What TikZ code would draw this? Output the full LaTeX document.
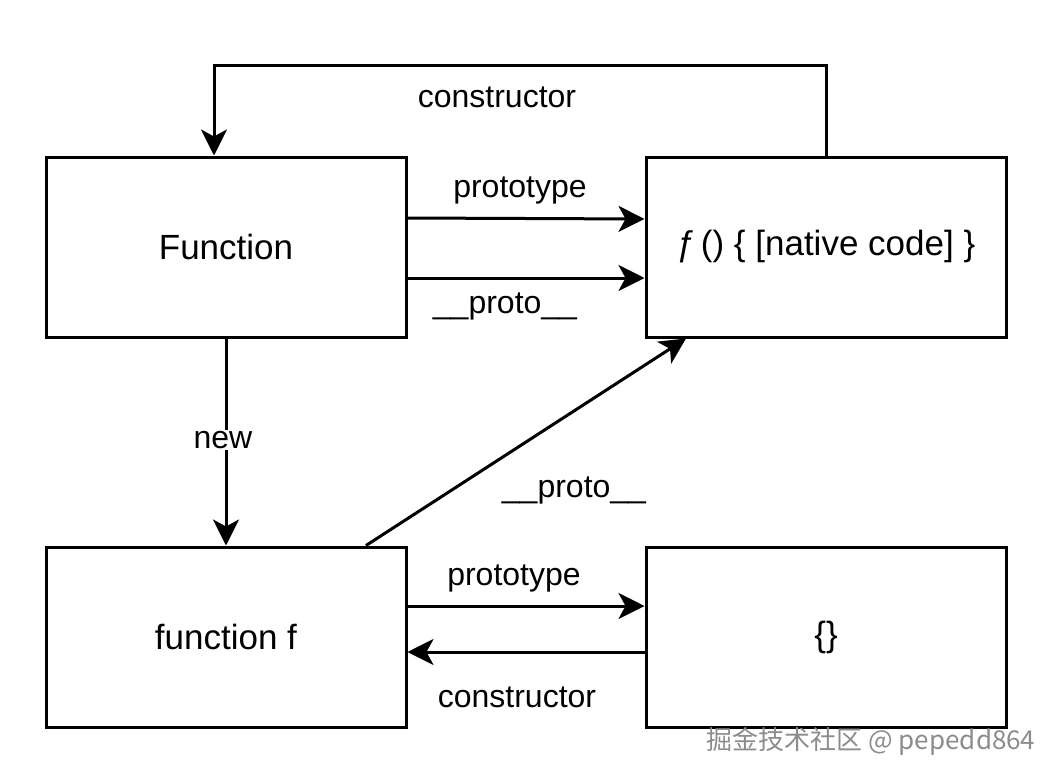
\documentclass[tikz,border=0pt]{standalone}
\usepackage{fontspec}
\setmainfont{Liberation Sans}
\newfontfamily\cjkfont{Noto Sans CJK SC}
\usetikzlibrary{arrows.meta}

\begin{document}
\begin{tikzpicture}[x=1pt, y=-1pt,
    every node/.style={align=center},
    box/.style={draw, line width=3pt, minimum width=360pt, minimum height=180pt, font=\fontsize{35}{40}\selectfont},
    lbl/.style={font=\fontsize{32}{36}\selectfont},
    arr/.style={line width=3pt, -{Stealth[length=26pt, width=26pt, inset=7pt]}}]
    \useasboundingbox (0,0) rectangle (1053,777);
    \node[box] (fun) at (226,247) {Function};
    \node[box] (native) at (826,247) {ƒ\kern-5pt\ () \{ [native code] \}};
    \node[box] (ff) at (226,637) {function f};
    \node[box] (obj) at (826,637) {\{\}};
    \draw [arr] (native.north) -- ++(0,-90) -| ([xshift=-12pt]fun.north);
    \draw [arr] ([yshift=29pt]fun.east) -- ([yshift=28pt]native.west);
    \draw [arr] ([yshift=-31pt]fun.east) -- ([yshift=-31pt]native.west);
    \draw [arr] (fun.south) -- (ff.north);
    \draw [arr] ([xshift=140pt]ff.north) -- ([xshift=-140pt]native.south);
    \draw [arr] ([yshift=31pt]ff.east) -- ([yshift=31pt]obj.west);
    \draw [arr] ([yshift=-15pt]obj.west) -- ([yshift=-15pt]ff.east);
    \node[lbl] (lctor) at (497,97) {constructor};
    \node[lbl] (lproto) at (520,190) {prototype};
    \node[lbl] (lpr) at (505,306) {\_\_proto\_\_};
    \node[lbl, fill=white, inner sep=1pt] (lnew) at (223,440) {new};
    \node[lbl] (lpr2) at (574,490) {\_\_proto\_\_};
    \node[lbl] (lproto2) at (514,578) {prototype};
    \node[lbl] (lctor2) at (517,697) {constructor};
    \node[font=\cjkfont\fontsize{26}{30}\selectfont, text=black!45] (mark) at (871,741) {掘金技术社区 @ pepedd864};
\end{tikzpicture}
\end{document}
